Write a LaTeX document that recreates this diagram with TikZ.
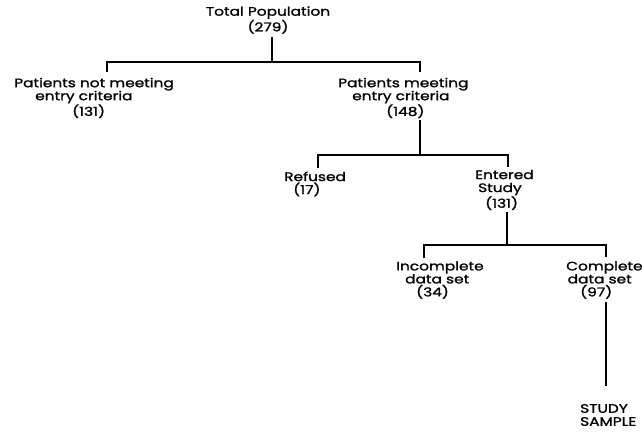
\documentclass[tikz,border=0pt]{standalone}
\usepackage{fontspec}
\newfontfamily\dfont{Poppins}[FakeBold=1.4, FakeStretch=1.25]
\tikzset{
  lbl/.style={font=\dfont\fontsize{12.3pt}{13pt}\selectfont, inner sep=0pt, align=left, anchor=west},
  lblc/.style={lbl, align=center, anchor=center},
  conn/.style={draw=black, line width=1.2pt}
}
\begin{document}
\begin{tikzpicture}[x=1pt,y=-1pt]
\useasboundingbox (0,0) rectangle (642,446);
% nodes
\node[lblc] (top) at (268,20) {Total Population\\(279)};
\node[lbl] (notmeet) at (14,98) {Patients not meeting\\\hspace*{21pt}entry criteria\\\hspace*{58pt}(131)};
\node[lbl] (meet) at (338,98) {Patients meeting\\\hspace*{14pt}entry criteria\\\hspace*{48pt}(148)};
\node[lbl] (refused) at (284,184) {Refused\\\hspace*{9pt}(17)};
\node[lbl] (entered) at (475,190) {Entered\\\hspace*{3pt}Study\\\hspace*{10pt}(131)};
\node[lbl] (incomplete) at (396,280) {Incomplete\\\hspace*{9pt}data set\\\hspace*{20pt}(34)};
\node[lbl] (complete) at (566,280) {Complete\\\hspace*{1.5pt}data set\\\hspace*{14pt}(97)};
\node[lbl] (study) at (580,415) {STUDY\\SAMPLE};
% junctions
\coordinate (s1) at (272,37);  \coordinate (j1) at (272,62);
\coordinate (a1) at (107,62);  \coordinate (b1) at (420,62);
\coordinate (a1e) at (107,72); \coordinate (b1e) at (420,72);
\coordinate (s2) at (420,120); \coordinate (j2) at (420,155);
\coordinate (a2) at (318,155); \coordinate (b2) at (508,155);
\coordinate (a2e) at (318,168); \coordinate (b2e) at (508,167);
\coordinate (s3) at (507,212); \coordinate (j3) at (507,245);
\coordinate (a3) at (424,245); \coordinate (b3) at (606,245);
\coordinate (a3e) at (424,258); \coordinate (b3e) at (606,257);
\coordinate (s4) at (606,302); \coordinate (e4) at (606,386);
% connectors
\draw[conn] (s1) -- (j1);
\draw[conn] (a1e) -- (a1) -- (b1) -- (b1e);
\draw[conn] (s2) -- (j2);
\draw[conn] (a2e) -- (a2) -- (b2) -- (b2e);
\draw[conn] (s3) -- (j3);
\draw[conn] (a3e) -- (a3) -- (b3) -- (b3e);
\draw[conn] (s4) -- (e4);
\end{tikzpicture}
\end{document}
